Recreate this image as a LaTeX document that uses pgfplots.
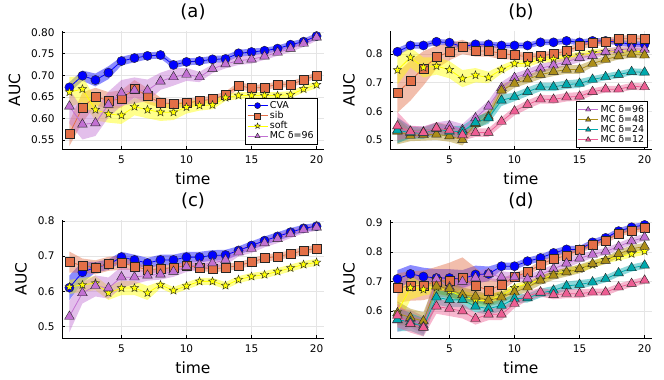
\documentclass[border=0pt]{standalone}
\usepackage{fontspec}
\setmainfont{DejaVu Sans}
\usepackage{pgfplots}
\usepackage{pgfplotstable}
\pgfplotsset{compat=1.18}
\usepgfplotslibrary{fillbetween}

\definecolor{cva}{RGB}{0,0,255}
\definecolor{sib}{RGB}{227,111,71}
\definecolor{soft}{RGB}{255,255,0}
\definecolor{mcA}{RGB}{194,113,210}
\definecolor{mcB}{RGB}{172,142,24}
\definecolor{mcC}{RGB}{0,169,173}
\definecolor{mcD}{RGB}{237,94,147}

% filled five-point star
\pgfdeclareplotmark{fstar}{%
  \pgfpathmoveto{\pgfpointpolar{90}{\pgfplotmarksize}}%
  \pgfpathlineto{\pgfpointpolar{126}{0.42\pgfplotmarksize}}%
  \pgfpathlineto{\pgfpointpolar{162}{\pgfplotmarksize}}%
  \pgfpathlineto{\pgfpointpolar{198}{0.42\pgfplotmarksize}}%
  \pgfpathlineto{\pgfpointpolar{234}{\pgfplotmarksize}}%
  \pgfpathlineto{\pgfpointpolar{270}{0.42\pgfplotmarksize}}%
  \pgfpathlineto{\pgfpointpolar{306}{\pgfplotmarksize}}%
  \pgfpathlineto{\pgfpointpolar{342}{0.42\pgfplotmarksize}}%
  \pgfpathlineto{\pgfpointpolar{18}{\pgfplotmarksize}}%
  \pgfpathlineto{\pgfpointpolar{54}{0.42\pgfplotmarksize}}%
  \pgfpathclose\pgfusepathqfillstroke}

% mean +- band, then line with markers
% #1 table, #2 column, #3 colour, #4 mark, #5 mark size, #6 extra options
\newcommand{\series}[6]{%
  \addplot[name path=#2u, draw=none, forget plot] table[x=x, y expr=\thisrow{#2}+\thisrow{#2e}] {#1};
  \addplot[name path=#2l, draw=none, forget plot] table[x=x, y expr=\thisrow{#2}-\thisrow{#2e}] {#1};
  \addplot[fill=#3, fill opacity=0.45, draw=none, forget plot] fill between[of=#2u and #2l];
  \addplot[color=#3, line width=0.8pt, mark=#4, mark size=#5,
    mark options={solid, fill=#3, draw=black!85, line width=0.4pt}, #6] table[x=x, y=#2] {#1};
}

\pgfplotstableread{
x cva cvae sib sibe soft softe m96 m96e
1 0.672 0.012 0.564 0.028 0.661 0.035 0.628 0.040
2 0.699 0.012 0.625 0.035 0.668 0.030 0.586 0.035
3 0.689 0.015 0.651 0.020 0.620 0.025 0.589 0.030
4 0.706 0.015 0.641 0.020 0.610 0.020 0.632 0.030
5 0.733 0.010 0.645 0.020 0.607 0.020 0.659 0.030
6 0.740 0.010 0.669 0.020 0.627 0.020 0.665 0.030
7 0.745 0.008 0.652 0.018 0.620 0.020 0.665 0.025
8 0.747 0.008 0.636 0.012 0.614 0.020 0.686 0.020
9 0.724 0.008 0.634 0.010 0.614 0.018 0.696 0.020
10 0.731 0.008 0.636 0.010 0.626 0.015 0.702 0.015
11 0.733 0.008 0.640 0.008 0.630 0.012 0.696 0.012
12 0.737 0.008 0.645 0.008 0.631 0.010 0.715 0.010
13 0.738 0.008 0.654 0.008 0.648 0.008 0.726 0.010
14 0.751 0.008 0.676 0.008 0.653 0.008 0.734 0.010
15 0.754 0.008 0.670 0.008 0.653 0.008 0.737 0.010
16 0.757 0.007 0.672 0.007 0.653 0.008 0.744 0.008
17 0.762 0.007 0.679 0.007 0.653 0.008 0.753 0.008
18 0.771 0.007 0.679 0.007 0.655 0.008 0.762 0.008
19 0.778 0.007 0.689 0.007 0.668 0.008 0.774 0.008
20 0.791 0.007 0.700 0.007 0.678 0.008 0.788 0.008
}\tA

\pgfplotstableread{
x cva cvae sib sibe soft softe m96 m96e m48 m48e m24 m24e m12 m12e
1 0.808 0.012 0.665 0.070 0.744 0.050 0.533 0.045 0.529 0.045 0.533 0.045 0.548 0.050
2 0.830 0.012 0.707 0.070 0.788 0.035 0.529 0.020 0.515 0.020 0.525 0.020 0.529 0.020
3 0.830 0.010 0.750 0.060 0.753 0.035 0.527 0.020 0.517 0.020 0.523 0.020 0.525 0.020
4 0.843 0.010 0.789 0.040 0.758 0.030 0.541 0.020 0.519 0.020 0.539 0.020 0.541 0.020
5 0.840 0.010 0.808 0.030 0.745 0.030 0.548 0.020 0.513 0.020 0.529 0.020 0.533 0.020
6 0.826 0.010 0.825 0.025 0.714 0.030 0.535 0.020 0.500 0.020 0.529 0.020 0.517 0.020
7 0.834 0.010 0.811 0.020 0.726 0.025 0.576 0.020 0.556 0.020 0.560 0.020 0.525 0.015
8 0.834 0.010 0.811 0.020 0.718 0.020 0.617 0.020 0.582 0.020 0.576 0.020 0.525 0.015
9 0.830 0.010 0.802 0.020 0.746 0.015 0.682 0.020 0.673 0.020 0.638 0.020 0.564 0.015
10 0.830 0.010 0.796 0.015 0.767 0.012 0.717 0.015 0.697 0.015 0.650 0.015 0.600 0.015
11 0.830 0.010 0.791 0.012 0.767 0.012 0.732 0.015 0.712 0.015 0.668 0.015 0.623 0.015
12 0.841 0.010 0.794 0.012 0.782 0.012 0.750 0.015 0.728 0.015 0.685 0.015 0.642 0.015
13 0.841 0.010 0.800 0.012 0.782 0.012 0.761 0.015 0.738 0.015 0.685 0.015 0.641 0.015
14 0.846 0.010 0.811 0.012 0.788 0.012 0.773 0.015 0.746 0.015 0.693 0.015 0.649 0.015
15 0.841 0.010 0.828 0.012 0.796 0.012 0.787 0.015 0.746 0.015 0.697 0.015 0.652 0.015
16 0.846 0.010 0.839 0.012 0.805 0.012 0.794 0.012 0.767 0.012 0.711 0.012 0.668 0.012
17 0.846 0.010 0.843 0.012 0.808 0.012 0.808 0.012 0.781 0.012 0.720 0.012 0.677 0.012
18 0.841 0.010 0.852 0.012 0.811 0.012 0.814 0.012 0.793 0.012 0.728 0.012 0.677 0.012
19 0.834 0.010 0.855 0.012 0.811 0.012 0.820 0.012 0.799 0.012 0.738 0.012 0.687 0.012
20 0.834 0.010 0.852 0.012 0.808 0.012 0.816 0.012 0.796 0.012 0.736 0.012 0.685 0.012
}\tB

\pgfplotstableread{
x cva cvae sib sibe soft softe m96 m96e
1 0.610 0.035 0.683 0.030 0.612 0.020 0.528 0.045
2 0.654 0.030 0.673 0.020 0.618 0.020 0.595 0.030
3 0.668 0.015 0.668 0.020 0.623 0.020 0.615 0.030
4 0.676 0.015 0.678 0.020 0.595 0.020 0.609 0.030
5 0.697 0.015 0.681 0.020 0.609 0.020 0.640 0.030
6 0.689 0.015 0.671 0.010 0.609 0.020 0.640 0.020
7 0.680 0.015 0.661 0.010 0.595 0.020 0.645 0.015
8 0.689 0.015 0.664 0.010 0.618 0.010 0.648 0.015
9 0.689 0.015 0.667 0.010 0.602 0.010 0.656 0.015
10 0.697 0.015 0.673 0.010 0.615 0.010 0.670 0.015
11 0.697 0.015 0.668 0.010 0.628 0.010 0.675 0.015
12 0.702 0.015 0.664 0.010 0.628 0.010 0.680 0.015
13 0.703 0.015 0.667 0.010 0.616 0.010 0.689 0.015
14 0.716 0.012 0.673 0.010 0.633 0.010 0.711 0.012
15 0.730 0.012 0.683 0.010 0.642 0.010 0.721 0.012
16 0.744 0.012 0.694 0.010 0.647 0.010 0.737 0.012
17 0.756 0.012 0.699 0.010 0.656 0.010 0.749 0.012
18 0.768 0.012 0.706 0.010 0.666 0.010 0.763 0.012
19 0.779 0.010 0.716 0.010 0.676 0.010 0.775 0.010
20 0.785 0.010 0.722 0.010 0.682 0.010 0.782 0.010
}\tC

\pgfplotstableread{
x cva cvae sib sibe soft softe m96 m96e m48 m48e m24 m24e m12 m12e
1 0.709 0.030 0.678 0.050 0.597 0.050 0.569 0.040 0.593 0.040 0.571 0.040 0.585 0.040
2 0.726 0.030 0.685 0.050 0.679 0.040 0.574 0.030 0.578 0.030 0.563 0.030 0.557 0.030
3 0.717 0.030 0.687 0.050 0.673 0.020 0.552 0.030 0.566 0.030 0.546 0.030 0.544 0.030
4 0.712 0.030 0.700 0.050 0.680 0.020 0.709 0.025 0.684 0.025 0.647 0.025 0.616 0.025
5 0.712 0.030 0.704 0.060 0.668 0.020 0.681 0.025 0.676 0.025 0.638 0.025 0.608 0.025
6 0.709 0.030 0.712 0.070 0.650 0.020 0.700 0.025 0.655 0.025 0.638 0.025 0.600 0.025
7 0.724 0.030 0.687 0.060 0.636 0.020 0.713 0.020 0.650 0.020 0.616 0.020 0.574 0.020
8 0.726 0.025 0.670 0.040 0.636 0.020 0.726 0.020 0.636 0.020 0.608 0.020 0.589 0.020
9 0.752 0.012 0.689 0.020 0.653 0.015 0.715 0.020 0.647 0.020 0.619 0.020 0.589 0.020
10 0.752 0.012 0.715 0.015 0.679 0.012 0.715 0.015 0.664 0.015 0.642 0.015 0.625 0.015
11 0.769 0.012 0.732 0.012 0.693 0.012 0.709 0.015 0.681 0.015 0.644 0.015 0.651 0.015
12 0.780 0.012 0.758 0.012 0.706 0.012 0.724 0.015 0.704 0.015 0.661 0.015 0.664 0.015
13 0.797 0.012 0.777 0.012 0.724 0.012 0.743 0.015 0.721 0.015 0.670 0.015 0.655 0.015
14 0.809 0.012 0.788 0.012 0.734 0.012 0.762 0.015 0.732 0.015 0.685 0.015 0.659 0.015
15 0.809 0.012 0.808 0.012 0.743 0.012 0.779 0.015 0.743 0.015 0.690 0.015 0.659 0.015
16 0.833 0.010 0.824 0.010 0.757 0.012 0.792 0.012 0.760 0.012 0.698 0.012 0.664 0.012
17 0.848 0.010 0.839 0.010 0.774 0.012 0.802 0.012 0.771 0.012 0.709 0.012 0.664 0.012
18 0.871 0.010 0.862 0.010 0.783 0.012 0.819 0.012 0.794 0.012 0.729 0.012 0.681 0.012
19 0.884 0.010 0.873 0.010 0.794 0.012 0.837 0.012 0.811 0.012 0.746 0.012 0.693 0.012
20 0.892 0.010 0.881 0.010 0.803 0.012 0.850 0.012 0.819 0.012 0.755 0.012 0.704 0.012
}\tD

\pgfplotsset{
  panel/.style={
    scale only axis, width=262pt, height=118pt,
    xmin=0.43, xmax=20.57,
    axis lines*=left,
    axis line style={black, line width=0.6pt},
    grid=major, major grid style={black!10, line width=0.5pt},
    tick align=inside, major tick length=3pt,
    tick style={black, line width=0.5pt},
    xtick={5,10,15,20}, xticklabels={5,10,15,20},
    ticklabel style={font=\fontsize{10.5}{12}\selectfont},
    xticklabel style={yshift=-3pt},
    yticklabel style={xshift=-4pt},
    xlabel={time}, ylabel={AUC},
    xlabel shift=2pt, ylabel shift=4pt,
    label style={font=\fontsize{15.5}{18}\selectfont},
    title style={font=\fontsize{18}{21}\selectfont, yshift=2pt},
    legend cell align=left,
    legend style={font=\fontsize{9.5}{10}\selectfont, draw=black, line width=0.6pt,
      fill=white, inner sep=1.5pt, row sep=-2.5pt},
    legend image code/.code={%
      \draw[mark repeat=2, mark phase=2, mark size=3pt]
        plot coordinates {(0pt,0pt) (10pt,0pt) (20pt,0pt)};},
  }
}

\begin{document}
\begin{tikzpicture}
\path (0,0) rectangle (664pt,-378pt);

% (a)
\begin{axis}[panel, at={(62pt,-147pt)}, anchor=south west, title={(a)},
  ymin=0.529, ymax=0.803,
  ytick={0.55,0.60,0.65,0.70,0.75,0.80},
  yticklabels={0.55,0.60,0.65,0.70,0.75,0.80},
  legend style={at={(rel axis cs:0.975,0.04)}, anchor=south east}]
\series{\tA}{cva}{cva}{*}{4.6pt}{}
\series{\tA}{sib}{sib}{square*}{4.5pt}{}
\series{\tA}{soft}{soft}{fstar}{4.4pt}{}
\series{\tA}{m96}{mcA}{triangle*}{5.6pt}{}
\legend{CVA, sib, soft, MC δ=96}
\end{axis}

% (b)
\begin{axis}[panel, at={(390pt,-147pt)}, anchor=south west, title={(b)},
  ymin=0.468, ymax=0.881,
  ytick={0.5,0.6,0.7,0.8}, yticklabels={0.5,0.6,0.7,0.8},
  legend style={at={(rel axis cs:0.985,0.01)}, anchor=south east}]
\series{\tB}{cva}{cva}{*}{4.6pt}{forget plot}
\series{\tB}{sib}{sib}{square*}{4.5pt}{forget plot}
\series{\tB}{soft}{soft}{fstar}{4.4pt}{forget plot}
\series{\tB}{m96}{mcA}{triangle*}{5.6pt}{}
\series{\tB}{m48}{mcB}{triangle*}{5.6pt}{}
\series{\tB}{m24}{mcC}{triangle*}{5.6pt}{}
\series{\tB}{m12}{mcD}{triangle*}{5.6pt}{}
\legend{MC δ=96, MC δ=48, MC δ=24, MC δ=12}
\end{axis}

% (c)
\begin{axis}[panel, at={(62pt,-336pt)}, anchor=south west, title={(c)},
  ymin=0.467, ymax=0.803,
  ytick={0.5,0.6,0.7,0.8}, yticklabels={0.5,0.6,0.7,0.8}]
\series{\tC}{cva}{cva}{*}{4.6pt}{}
\series{\tC}{sib}{sib}{square*}{4.5pt}{}
\series{\tC}{soft}{soft}{fstar}{4.4pt}{}
\series{\tC}{m96}{mcA}{triangle*}{5.6pt}{}
\end{axis}

% (d)
\begin{axis}[panel, at={(390pt,-336pt)}, anchor=south west, title={(d)},
  ymin=0.509, ymax=0.909,
  ytick={0.6,0.7,0.8,0.9}, yticklabels={0.6,0.7,0.8,0.9}]
\series{\tD}{cva}{cva}{*}{4.6pt}{}
\series{\tD}{sib}{sib}{square*}{4.5pt}{}
\series{\tD}{soft}{soft}{fstar}{4.4pt}{}
\series{\tD}{m96}{mcA}{triangle*}{5.6pt}{}
\series{\tD}{m48}{mcB}{triangle*}{5.6pt}{}
\series{\tD}{m24}{mcC}{triangle*}{5.6pt}{}
\series{\tD}{m12}{mcD}{triangle*}{5.6pt}{}
\end{axis}
\end{tikzpicture}
\end{document}
